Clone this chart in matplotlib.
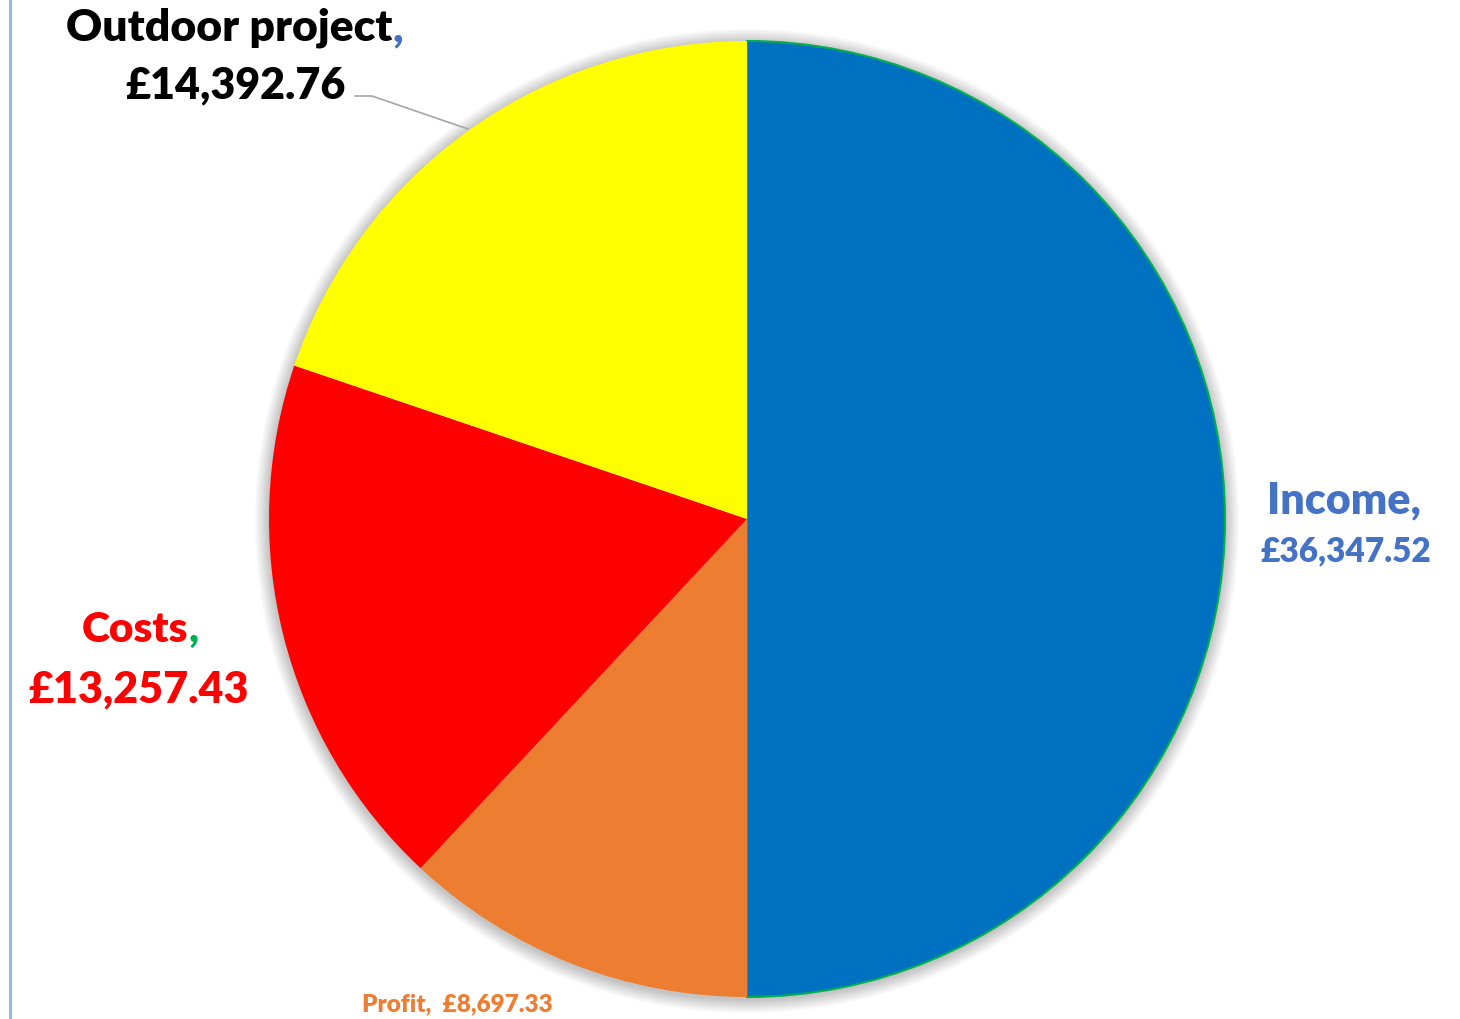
import matplotlib.pyplot as plt
from matplotlib.patches import Circle

# data
labels = ["Income", "Profit", "Costs", "Outdoor project"]
values = [36347.52, 8697.33, 13257.43, 14392.76]
colors = ["#0070C0", "#ED7D31", "#FF0000", "#FFFF00"]

plt.rcParams['font.family'] = ['Lato', 'DejaVu Sans']

fig = plt.figure(figsize=(14.6, 10.2), dpi=100)
ax = fig.add_axes([0, 0, 1, 1])

cx, cy, r = 747, 1020 - 520, 478

# soft shadow behind the pie
for i in range(12):
    ax.add_patch(Circle((cx, cy - 2), r + 1 + i * 1.2, color='black',
                        alpha=0.018, lw=0, zorder=0))

wedges, _ = ax.pie(values, colors=colors, startangle=90, counterclock=False,
                   center=(cx, cy), radius=r, frame=True,
                   wedgeprops=dict(linewidth=0))
wedges[0].set_edgecolor('#00B050')
wedges[0].set_linewidth(1.5)
ax.set_xlim(0, 1460)
ax.set_ylim(0, 1020)
ax.set_aspect('equal')
ax.axis('off')


def fmt(v):
    return f"£{v:,.2f}"


def two_tone(x, y, main, comma_color, color, size):
    # main text plus a comma in another colour right after it
    t = ax.text(x, y, main, ha='center', va='center', fontsize=size,
                fontweight='heavy', color=color)
    ax.annotate(",", xy=(1, 0.5), xycoords=t, va='center', ha='left',
                fontsize=size, fontweight='heavy', color=comma_color)
    return t


# Outdoor project label
two_tone(229, 1020 - 28, "Outdoor project", "#4472C4", "black", 32)
ax.text(236, 1020 - 85, fmt(values[3]), ha='center', va='center',
        fontsize=31, fontweight='heavy', color='black')
ax.plot([355, 372, 468], [1020 - 97, 1020 - 97, 1020 - 130],
        color='#A6A6A6', lw=1.2)

# Income label
ax.text(1344, 1020 - 500, "Income,", ha='center', va='center',
        fontsize=31, fontweight='heavy', color='#4472C4')
ax.text(1346, 1020 - 551, fmt(values[0]), ha='center', va='center',
        fontsize=24, fontweight='heavy', color='#4472C4')

# Costs label
two_tone(135, 1020 - 630, "Costs", "#00B050", "#FF0000", 30.5)
ax.text(139, 1020 - 689, fmt(values[2]), ha='center', va='center',
        fontsize=31, fontweight='heavy', color='#FF0000')

# Profit label
ax.text(457, 1020 - 1004, "Profit,  " + fmt(values[1]), ha='center',
        va='center', fontsize=17.5, fontweight='heavy', color='#ED7D31')

# chart border line at left
ax.plot([9.5, 9.5], [0, 1020], color='#8DB4E2', lw=2, clip_on=False)

fig.savefig("out.png", dpi=100, facecolor='white')
